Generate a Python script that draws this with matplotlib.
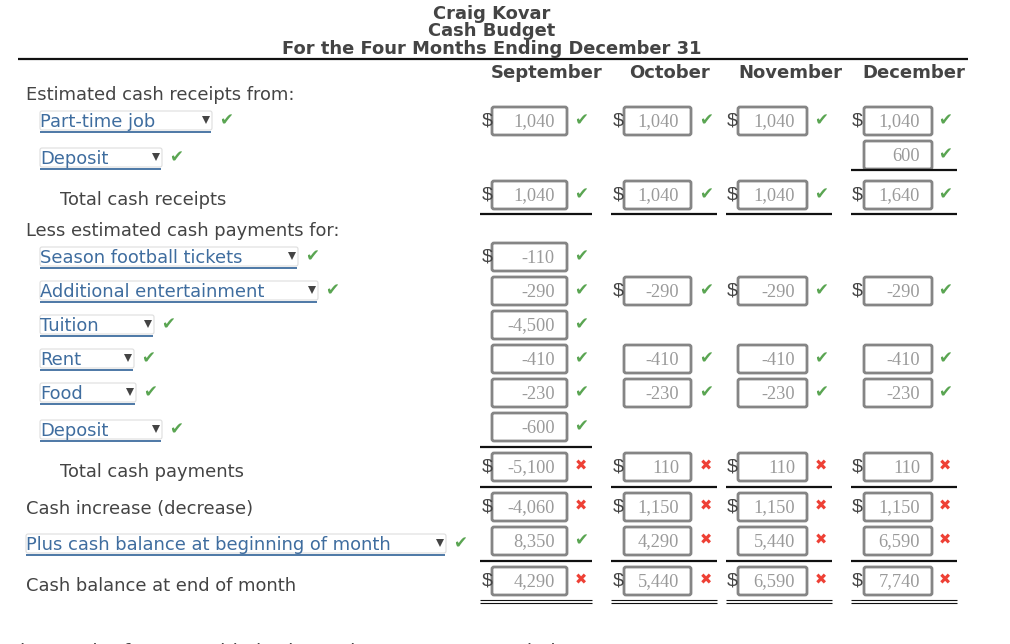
import matplotlib
matplotlib.use('Agg')
import matplotlib.pyplot as plt
from matplotlib.patches import FancyBboxPatch

# table content
title_lines = ['Craig Kovar', 'Cash Budget', 'For the Four Months Ending December 31']
months = ['September', 'October', 'November', 'December']

plain_labels = ['Estimated cash receipts from:', 'Total cash receipts', 'Less estimated cash payments for:',
                'Total cash payments', 'Cash increase (decrease)', 'Cash balance at end of month']
dropdown_labels = ['Part-time job', 'Deposit', 'Season football tickets', 'Additional entertainment',
                   'Tuition', 'Rent', 'Food', 'Deposit', 'Plus cash balance at beginning of month']

sep_values = ['1,040', None, '1,040', '-110', '-290', '-4,500', '-410', '-230', '-600', '-5,100', '-4,060', '8,350', '4,290']
oct_values = ['1,040', None, '1,040', None, '-290', None, '-410', '-230', None, '110', '1,150', '4,290', '5,440']
nov_values = ['1,040', None, '1,040', None, '-290', None, '-410', '-230', None, '110', '1,150', '5,440', '6,590']
dec_values = ['1,040', '600', '1,640', None, '-290', None, '-410', '-230', None, '110', '1,150', '6,590', '7,740']
column_values = [sep_values, oct_values, nov_values, dec_values]

# True = tick, False = cross
sep_marks = [True, None, True, True, True, True, True, True, True, False, False, True, False]
oct_marks = [True, None, True, None, True, None, True, True, None, False, False, False, False]
nov_marks = oct_marks
dec_marks = [True, True, True, None, True, None, True, True, None, False, False, False, False]
column_marks = [sep_marks, oct_marks, nov_marks, dec_marks]

sep_dollars = [True, False, True, True, False, False, False, False, False, True, True, False, True]
other_dollars = [True, False, True, False, True, False, False, False, False, True, True, False, True]
column_dollars = [sep_dollars, other_dollars, other_dollars, other_dollars]

# the next question, cut off by the bottom edge of the screenshot
cut_off_text = 'b. Are the four-monthly budgets that were prepared above'
cut_off_choice = 'static budgets or flexible budgets'

# appearance
LABEL_FONT = 'DejaVu Sans'
VALUE_FONT = 'Liberation Serif'
TEXT_COLOR = '#444444'
LINK_COLOR = '#3f6d9f'
VALUE_COLOR = '#9a9a9a'
BOX_EDGE = '#858585'
GREEN = '#5aa552'
RED = '#ee4035'
LABEL_SIZE = 12.9

row_y = [121, 155, 195, 257, 291, 325, 359, 393, 427, 467, 507, 541, 581]
box_left = [492, 624, 738, 864]
box_right = [567, 691, 807, 932]
dollar_x = [487, 618, 732, 857]
mark_x = [581, 706, 821, 945]
rule_left = [480, 611, 726, 851]
rule_right = [592, 717, 832, 957]
single_rule_y = {0: [214, 447, 487, 561], 1: [214, 487, 561], 2: [214, 487, 561], 3: [170, 214, 487, 561]}
double_rule_y = [600, 603]

plain_pos = [(26, 95), (60, 200), (26, 231), (60, 472), (26, 509), (26, 586)]
dropdown_pos = [(40, 121, 212), (40, 158, 162), (40, 257, 298), (40, 291, 318), (40, 325, 154),
                (40, 359, 134), (40, 393, 136), (40, 430, 162), (26, 544, 446)]

fig = plt.figure(figsize=(10.10, 6.44), dpi=100)
ax = fig.add_axes([0, 0, 1, 1])
ax.set_xlim(0, 1010)
ax.set_ylim(644, 0)
ax.axis('off')

# heading
for line, y in zip(title_lines, [14, 31, 49]):
    ax.text(492, y, line, ha='center', va='center', family=LABEL_FONT, fontsize=12.9, fontweight='bold', color=TEXT_COLOR)
ax.plot([18, 968], [59, 59], color='#111111', lw=1.6, solid_capstyle='butt')
for month, x in zip(months, [547, 670, 790, 914]):
    ax.text(x, 73, month, ha='center', va='center', family=LABEL_FONT, fontsize=13, fontweight='bold', color=TEXT_COLOR)

# row labels
for label, (x, y) in zip(plain_labels, plain_pos):
    ax.text(x, y, label, ha='left', va='center', family=LABEL_FONT, fontsize=LABEL_SIZE, color=TEXT_COLOR)

# dropdowns
for label, (x, y, right) in zip(dropdown_labels, dropdown_pos):
    ax.add_patch(FancyBboxPatch((x, y - 10), right - x, 19, boxstyle='round,pad=0,rounding_size=2',
                                fc='white', ec='#dddddd', lw=0.8))
    ax.text(x, y + 1, label, ha='left', va='center', family=LABEL_FONT, fontsize=LABEL_SIZE, color=LINK_COLOR)
    ax.plot([x, right - 1], [y + 10.5, y + 10.5], color=LINK_COLOR, lw=1.3, solid_capstyle='butt')
    ax.plot(right - 6, y - 1, marker='v', ms=5.5, color='#444444', mew=0)
    ax.text(right + 14, y - 1, '\u2714', ha='center', va='center', family='DejaVu Sans', fontsize=12, color=GREEN)

# value boxes
for col in range(4):
    for y, value, mark, dollar in zip(row_y, column_values[col], column_marks[col], column_dollars[col]):
        if value is None:
            continue
        ax.add_patch(FancyBboxPatch((box_left[col], y - 14), box_right[col] - box_left[col], 28,
                                    boxstyle='round,pad=0,rounding_size=2', fc='white', ec=BOX_EDGE, lw=2))
        ax.text(box_right[col] - 12, y + 1, value, ha='right', va='center', family=VALUE_FONT,
                fontsize=13.2, color=VALUE_COLOR)
        if dollar:
            ax.text(dollar_x[col], y, '$', ha='center', va='center', family='Liberation Sans',
                    fontsize=14, color=TEXT_COLOR)
        if mark:
            ax.text(mark_x[col], y - 1, '\u2714', ha='center', va='center', family='DejaVu Sans', fontsize=12, color=GREEN)
        else:
            ax.text(mark_x[col], y - 1, '\u2716', ha='center', va='center', family='DejaVu Sans', fontsize=10.5, color=RED)
    for y in single_rule_y[col]:
        ax.plot([rule_left[col], rule_right[col]], [y, y], color='#111111', lw=1.6, solid_capstyle='butt')
    for y in double_rule_y:
        ax.plot([rule_left[col], rule_right[col]], [y, y], color='#111111', lw=0.8, solid_capstyle='butt')

# only the tops of this line show above the bottom edge
ax.text(20, 652.5, cut_off_text, ha='left', va='center', family=LABEL_FONT, fontsize=14.2, color=TEXT_COLOR, clip_on=True)
ax.text(640, 652.5, cut_off_choice, ha='left', va='center', family=LABEL_FONT, fontsize=LABEL_SIZE, color=GREEN, clip_on=True)
ax.text(943, 652.5, '?', ha='left', va='center', family=LABEL_FONT, fontsize=LABEL_SIZE, color=TEXT_COLOR, clip_on=True)

fig.savefig('out.png', dpi=100)
